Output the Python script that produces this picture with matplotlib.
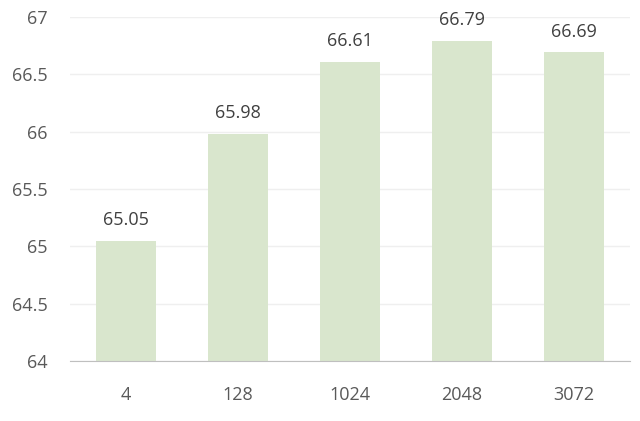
import numpy as np
import matplotlib.pyplot as plt

plt.rcParams['font.family'] = ['Open Sans', 'DejaVu Sans']

# данни
categories = ['4', '128', '1024', '2048', '3072']
values = [65.05, 65.98, 66.61, 66.79, 66.69]
y_ticks = [64, 64.5, 65, 65.5, 66, 66.5, 67]
y_labels = ['64', '64.5', '65', '65.5', '66', '66.5', '67']

fig = plt.figure(figsize=(6.4, 4.21), dpi=100)
ax = fig.add_axes([0.109, 0.1425, 0.875, 0.8175])

x = np.arange(len(categories))
ax.bar(x, values, width=0.54, color='#d9e6cd', zorder=2)

for xi, v in zip(x, values):
    ax.text(xi, v + 0.1, f'{v:.2f}', ha='center', va='bottom',
            fontsize=13, color='#404040')

ax.set_xlim(-0.5, len(categories) - 0.5)
ax.set_ylim(64, 67)
ax.set_xticks(x)
ax.set_xticklabels(categories)
ax.set_yticks(y_ticks)
ax.set_yticklabels(y_labels)
ax.tick_params(axis='both', length=0, labelsize=13, labelcolor='#595959')
ax.tick_params(axis='x', pad=18)
ax.tick_params(axis='y', pad=16)

ax.grid(axis='y', color='#efefef', linewidth=1, zorder=0)
for s in ['top', 'right', 'left']:
    ax.spines[s].set_visible(False)
ax.spines['bottom'].set_color('#bfbfbf')
ax.spines['bottom'].set_zorder(3)

plt.savefig('out.png', dpi=100)
